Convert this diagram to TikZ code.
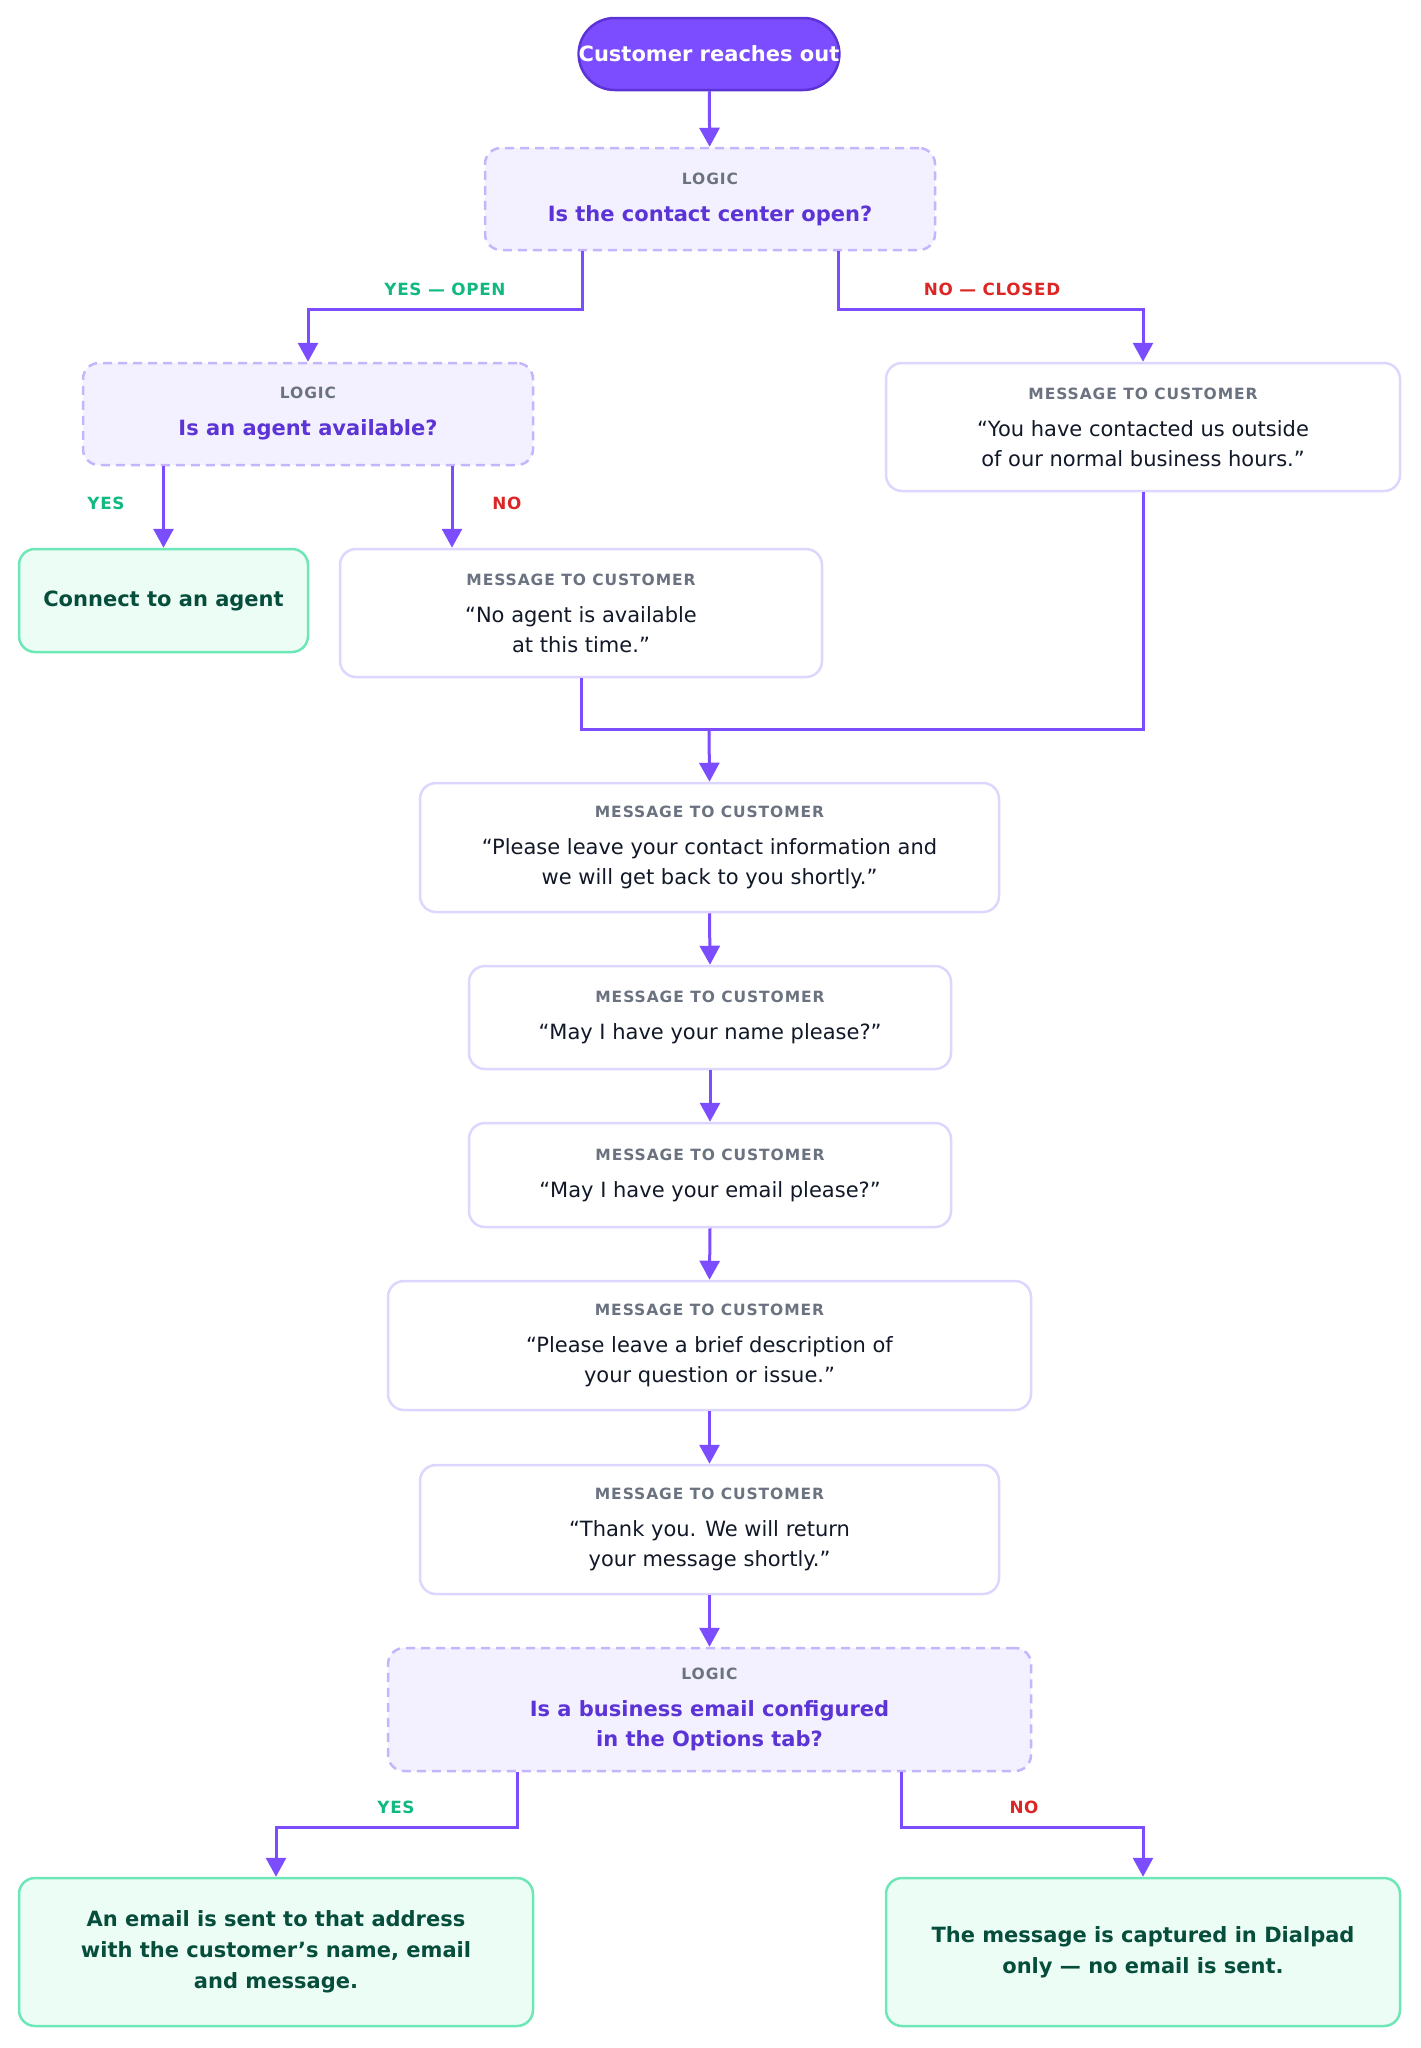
\documentclass[tikz,border=0pt]{standalone}
\usepackage{fontspec}
\setmainfont{DejaVu Sans}
\usetikzlibrary{arrows.meta}

\definecolor{flowpurple}{RGB}{124,77,255}
\definecolor{darkpurple}{RGB}{92,52,214}
\definecolor{logicfill}{RGB}{243,240,255}
\definecolor{logicborder}{RGB}{196,181,253}
\definecolor{msgborder}{RGB}{221,214,254}
\definecolor{tagtext}{RGB}{107,114,128}
\definecolor{msgtext}{RGB}{17,24,39}
\definecolor{donefill}{RGB}{236,253,245}
\definecolor{doneborder}{RGB}{110,231,183}
\definecolor{donetext}{RGB}{6,78,59}
\definecolor{yesgreen}{RGB}{16,185,129}
\definecolor{nored}{RGB}{220,38,38}

\newcommand{\tagline}[1]{{\fontsize{15.5}{18}\selectfont\bfseries\addfontfeatures{LetterSpace=6}\color{tagtext}#1}}

\begin{document}
\begin{tikzpicture}[x=1pt, y=-1pt,
  box/.style={rectangle, rounded corners=16pt, line width=2.5pt, align=center, inner sep=0pt, font=\fontsize{21}{30}\selectfont},
  logicbox/.style={box, draw=logicborder, fill=logicfill, dash pattern=on 9pt off 6pt, text=darkpurple, font=\fontsize{21}{30}\selectfont\bfseries},
  msgbox/.style={box, draw=msgborder, fill=white, text=msgtext},
  donebox/.style={box, draw=doneborder, fill=donefill, text=donetext, font=\fontsize{21}{31}\selectfont\bfseries},
  flow/.style={draw=flowpurple, line width=3pt},
  arr/.style={flow, -{Triangle[width=20pt,length=19pt]}},
  yeslabel/.style={font=\fontsize{16.8}{20}\selectfont\bfseries\addfontfeatures{LetterSpace=4}, text=yesgreen},
  nolabel/.style={font=\fontsize{16.8}{20}\selectfont\bfseries\addfontfeatures{LetterSpace=4}, text=nored}]

\useasboundingbox (0,0) rectangle (1421,2048);

\node[box, draw=darkpurple, fill=flowpurple, text=white, font=\fontsize{21}{24}\selectfont\bfseries, rounded corners=36pt, minimum width=258pt, minimum height=72pt] (start) at (709,54) {Customer reaches out};

\node[logicbox, minimum width=450pt, minimum height=102pt] (open) at (710,199) {\tagline{LOGIC}\\[7pt]Is the contact center open?};
\node[logicbox, minimum width=450pt, minimum height=102pt] (agentfree) at (308,414) {\tagline{LOGIC}\\[7pt]Is an agent available?};
\node[msgbox, minimum width=514pt, minimum height=128pt] (closed) at (1143,427) {\tagline{MESSAGE TO CUSTOMER}\\[7pt]“You have contacted us outside\\of our normal business hours.”};
\node[donebox, minimum width=289pt, minimum height=103pt] (agent) at (163.5,600.5) {Connect to an agent};
\node[msgbox, minimum width=482pt, minimum height=128pt] (noagent) at (581,613) {\tagline{MESSAGE TO CUSTOMER}\\[7pt]“No agent is available\\at this time.”};
\coordinate (join) at (709,729);
\node[msgbox, minimum width=579pt, minimum height=129pt] (please) at (709.5,847.5) {\tagline{MESSAGE TO CUSTOMER}\\[7pt]“Please leave your contact information and\\we will get back to you shortly.”};
\node[msgbox, minimum width=482pt, minimum height=103pt] (name) at (710,1017.5) {\tagline{MESSAGE TO CUSTOMER}\\[7pt]“May I have your name please?”};
\node[msgbox, minimum width=482pt, minimum height=104pt] (email) at (710,1175) {\tagline{MESSAGE TO CUSTOMER}\\[7pt]“May I have your email please?”};
\node[msgbox, minimum width=643pt, minimum height=129pt] (describe) at (709.5,1345.5) {\tagline{MESSAGE TO CUSTOMER}\\[7pt]“Please leave a brief description of\\your question or issue.”};
\node[msgbox, minimum width=579pt, minimum height=129pt] (thanks) at (709.5,1529.5) {\tagline{MESSAGE TO CUSTOMER}\\[7pt]“Thank you. We will return\\your message shortly.”};
\node[logicbox, minimum width=643pt, minimum height=123pt] (business) at (709.5,1709.5) {\tagline{LOGIC}\\[7pt]Is a business email configured\\in the Options tab?};
\node[donebox, minimum width=514pt, minimum height=148pt] (emailsent) at (276,1952) {An email is sent to that address\\with the customer’s name, email\\and message.};
\node[donebox, minimum width=514pt, minimum height=148pt] (captured) at (1143,1952) {The message is captured in Dialpad\\only — no email is sent.};

\draw[arr] (start) -- (open);
\draw[arr] ([xshift=-128pt]open.south) -- ++(0,58) -| (agentfree.north);
\node[yeslabel] (yesopen) at (445,289) {YES — OPEN};
\draw[arr] ([xshift=128pt]open.south) -- ++(0,58) -| (closed.north);
\node[nolabel] (noclosed) at (992,289) {NO — CLOSED};

\draw[arr] (agentfree.south -| agent.north) -- (agent.north);
\node[yeslabel] (yesagent) at (106,503) {YES};
\draw[arr] ([xshift=144pt]agentfree.south) -- ([xshift=144pt]agentfree.south |- noagent.north);
\node[nolabel] (noagentlabel) at (507,503) {NO};

\draw[flow] (noagent.south) |- (join);
\draw[flow] (closed.south) |- (join);
\draw[arr] (join) -- (please.north);
\foreach \a/\b in {please/name, name/email, email/describe, describe/thanks, thanks/business}
\draw[arr] (\a.south) -- (\b.north);

\draw[arr] ([xshift=-192pt]business.south) -- ++(0,55) -| (emailsent.north);
\node[yeslabel] (yesemail) at (396,1807) {YES};
\draw[arr] ([xshift=192pt]business.south) -- ++(0,55) -| (captured.north);
\node[nolabel] (noemail) at (1024,1807) {NO};
\end{tikzpicture}
\end{document}
